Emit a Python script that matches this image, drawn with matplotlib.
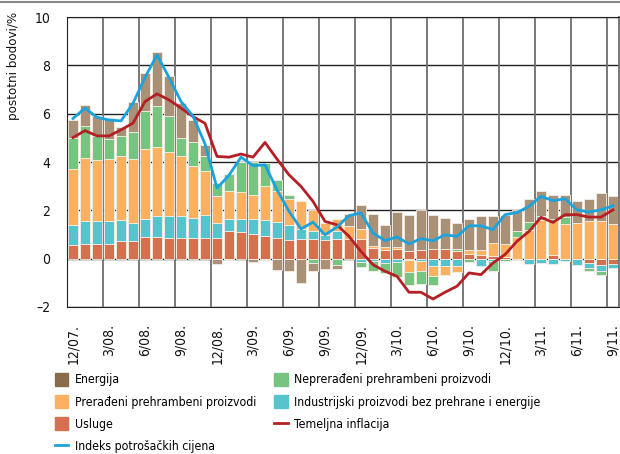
import numpy as np
import matplotlib
matplotlib.use('Agg')
import matplotlib.pyplot as plt
from matplotlib.patches import Patch
from matplotlib.lines import Line2D

plt.rcParams['font.family'] = ['DejaVu Sans']
plt.rcParams['font.stretch'] = 'condensed'

months = ['12/07.', '1/08.', '2/08.', '3/08.', '4/08.', '5/08.', '6/08.', '7/08.', '8/08.',
          '9/08.', '10/08.', '11/08.', '12/08.', '1/09.', '2/09.', '3/09.', '4/09.', '5/09.',
          '6/09.', '7/09.', '8/09.', '9/09.', '10/09.', '11/09.', '12/09.', '1/10.', '2/10.',
          '3/10.', '4/10.', '5/10.', '6/10.', '7/10.', '8/10.', '9/10.', '10/10.', '11/10.',
          '12/10.', '1/11.', '2/11.', '3/11.', '4/11.', '5/11.', '6/11.', '7/11.', '8/11.',
          '9/11.']

# contributions, percentage points
usluge = [0.58, 0.59, 0.59, 0.62, 0.72, 0.72, 0.88, 0.88, 0.85, 0.85, 0.85, 0.85,
          0.85, 1.16, 1.10, 1.02, 0.92, 0.85, 0.79, 0.81, 0.81, 0.79, 0.81, 0.83,
          0.80, 0.43, 0.37, 0.40, 0.33, 0.37, 0.40, 0.40, 0.33, 0.21, 0.17, 0.12,
          0.05, 0.0, 0.0, 0.0, 0.16, 0.0, 0.0, -0.18, -0.28, -0.20]
industrijski = [0.80, 0.95, 0.95, 0.92, 0.86, 0.75, 0.77, 0.87, 0.90, 0.90, 0.83, 0.97,
                0.62, 0.48, 0.55, 0.63, 0.69, 0.66, 0.61, 0.42, 0.32, 0.17, 0.32, 0.0,
                -0.14, -0.08, -0.16, -0.15, -0.05, -0.10, -0.29, -0.32, -0.29, 0.0, -0.29, -0.10,
                0.0, -0.05, -0.20, -0.18, -0.20, -0.10, -0.25, -0.21, -0.24, -0.19]
preradjeni = [2.33, 2.62, 2.55, 2.59, 2.65, 2.66, 2.90, 2.89, 2.68, 2.48, 2.14, 1.79,
              1.11, 1.14, 1.09, 0.99, 1.38, 1.27, 1.07, 1.14, 0.87, 0.51, 0.52, 0.53,
              0.43, 0.11, 0.11, 0.08, -0.50, -0.40, -0.41, -0.34, -0.28, 0.16, 0.20, 0.53,
              0.57, 0.90, 1.20, 1.61, 1.38, 1.43, 1.47, 1.54, 1.54, 1.45]
nepreradjeni = [1.30, 1.31, 0.97, 0.83, 0.83, 1.13, 1.58, 1.68, 1.46, 0.76, 0.99, 0.65,
                0.55, 0.73, 1.28, 1.38, 0.96, 0.48, 0.17, 0.0, -0.18, 0.0, -0.28, 0.0,
                -0.22, -0.45, -0.43, -0.61, -0.52, -0.55, -0.40, 0.0, 0.05, -0.15, 0.0, -0.40,
                -0.10, 0.23, 0.30, 0.17, 0.10, 0.29, 0.0, -0.13, -0.14, 0.0]
energija = [0.71, 0.87, 0.85, 0.88, 0.37, 1.23, 1.57, 2.23, 1.67, 1.44, 0.93, 0.45,
            -0.22, -0.07, 0.0, -0.15, -0.05, -0.45, -0.52, -1.00, -0.32, -0.43, -0.13, 0.50,
            1.00, 1.32, 0.92, 1.45, 1.49, 1.63, 1.42, 1.28, 1.09, 1.27, 1.41, 1.13,
            1.20, 0.87, 0.97, 1.00, 1.00, 0.92, 0.90, 0.93, 1.17, 1.13]

# inflation rates, %
indeks = [5.80, 6.23, 5.85, 5.74, 5.70, 6.43, 7.50, 8.43, 7.50, 6.50, 5.90, 4.75,
          2.92, 3.45, 4.20, 3.85, 3.88, 2.85, 1.96, 1.23, 1.51, 0.99, 1.31, 1.78,
          1.89, 1.06, 0.75, 0.90, 0.61, 0.83, 0.74, 0.99, 0.92, 1.36, 1.36, 1.20,
          1.82, 1.91, 2.16, 2.58, 2.40, 2.48, 2.02, 1.93, 2.02, 2.19]
temeljna = [5.01, 5.30, 5.08, 5.08, 5.33, 5.61, 6.50, 6.82, 6.57, 6.23, 5.88, 5.60,
            4.23, 4.20, 4.33, 4.20, 4.81, 4.12, 3.47, 2.99, 2.37, 1.54, 1.40, 0.92,
            0.30, -0.25, -0.52, -0.73, -1.39, -1.39, -1.67, -1.39, -1.14, -0.59, -0.66, -0.18,
            0.17, 0.72, 1.13, 1.71, 1.50, 1.82, 1.82, 1.72, 1.72, 2.02]

series = [
    (usluge, '#d3704f'),
    (industrijski, '#56c3cd'),
    (preradjeni, '#fbb062'),
    (nepreradjeni, '#77c480'),
    (energija, '#a89177'),
]

fig = plt.figure(figsize=(6.2, 4.54), dpi=100)
ax = fig.add_axes([67 / 620, 1 - 307 / 454, 552 / 620, 290 / 454])

x = np.arange(len(months))
pos = np.zeros(len(months))
neg = np.zeros(len(months))
for vals, col in series:
    v = np.array(vals)
    bottom = np.where(v >= 0, pos, neg)
    ax.bar(x, v, 0.82, bottom=bottom, color=col, edgecolor='#f4eee8', linewidth=0.6, zorder=2)
    pos += np.where(v >= 0, v, 0)
    neg += np.where(v < 0, v, 0)

ax.plot(x, temeljna, color='#b51f26', lw=2.0, zorder=3)
ax.plot(x, indeks, color='#1ba3dd', lw=2.0, zorder=4)

ax.set_xlim(-0.5, len(months) - 0.5)
ax.set_ylim(-2, 10)
ax.set_yticks(range(-2, 11, 2))
ax.set_yticklabels(['\u20132' if t < 0 else str(t) for t in range(-2, 11, 2)])
for t in range(-2, 11, 2):
    ax.axhline(t, color='#222222', lw=1.0, zorder=1)
for k in range(0, len(months), 3):
    ax.axvline(k - 0.5, color='#6e6e6e', lw=1.3, zorder=1)

ax.set_xticks(x[::3])
ax.set_xticklabels(months[::3], rotation=90)
ax.tick_params(axis='both', length=0, labelsize=10, colors='#111111')
ax.tick_params(axis='x', pad=12)
ax.tick_params(axis='y', pad=12)
for s in ['left', 'bottom', 'top']:
    ax.spines[s].set_color('#222222')
ax.spines['right'].set_color('#6e6e6e')
ax.spines['right'].set_linewidth(1.3)

fig.text(13 / 620, 1 - 12 / 454, 'postotni bodovi/%', rotation=90, va='top', ha='center',
         fontsize=9.5, color='#111111')
fig.add_artist(Line2D([0, 1], [1 - 2 / 454, 1 - 2 / 454], color='#8a8a8a', lw=1.5))

leg_handles = [
    Patch(color='#8b6b4e', label='Energija'),
    Patch(color='#fbb062', label='Prerađeni prehrambeni proizvodi'),
    Patch(color='#d3704f', label='Usluge'),
    Line2D([], [], color='#1ba3dd', lw=2.0, label='Indeks potrošačkih cijena'),
    Patch(color='#77c480', label='Neprerađeni prehrambeni proizvodi'),
    Patch(color='#56c3cd', label='Industrijski proizvodi bez prehrane i energije'),
    Line2D([], [], color='#b51f26', lw=2.0, label='Temeljna inflacija'),
]
fig.legend(handles=leg_handles, ncol=2, loc='upper left', bbox_to_anchor=(55 / 620, 1 - 373 / 454),
           frameon=False, fontsize=8.8, handlelength=1.1, handleheight=1.2, handletextpad=0.5,
           labelspacing=0.72, columnspacing=1.5, borderaxespad=0, borderpad=0)

fig.savefig('out.png', dpi=100)
